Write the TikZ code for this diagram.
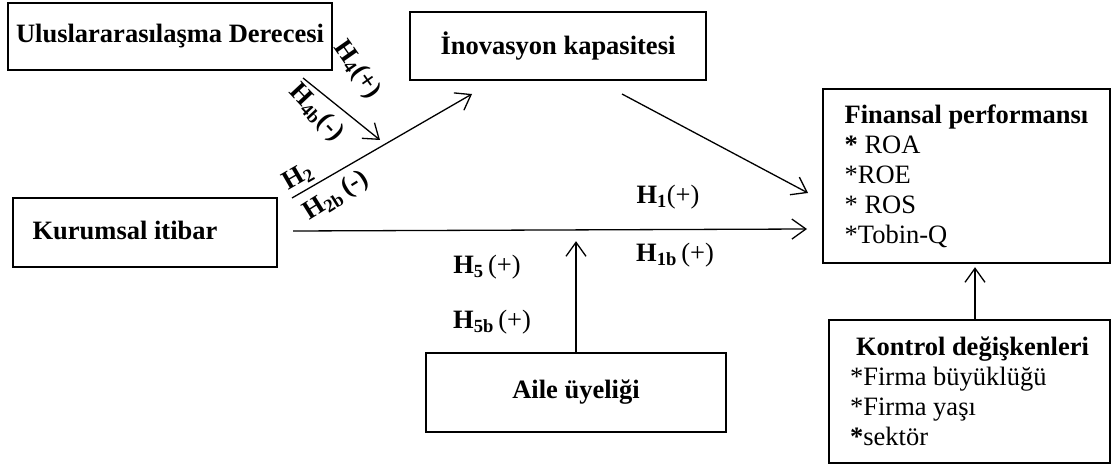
\documentclass[tikz,border=0pt]{standalone}
\usepackage{fontspec}
\setmainfont{Liberation Serif}
\usetikzlibrary{arrows.meta}
\newcommand{\Boyut}{\fontsize{26.5}{30}\selectfont}
\tikzset{
  kutu/.style={draw,line width=1.6pt,inner sep=0pt,font=\Boyut\bfseries},
  liste/.style={draw,line width=1.6pt,inner sep=0pt,align=left,font=\Boyut},
  ok/.style={line width=1.3pt,-{Straight Barb[length=14pt,width=20pt,line width=1.3pt]}},
  hip/.style={inner sep=0pt,font=\Boyut\bfseries},
}
\newcommand{\Hip}[1]{H\textsubscript{#1}}

\begin{document}
\begin{tikzpicture}[x=1pt,y=-1pt]
  \useasboundingbox (0,0) rectangle (1111,465);

  % kutular
  \node[kutu,minimum width=324,minimum height=67] (ulus) at (170,36.5)
    {Uluslararasılaşma Derecesi};
  \node[kutu,minimum width=296,minimum height=68] (inov) at (558,46)
    {İnovasyon kapasitesi};
  \node[kutu,minimum width=264,minimum height=69] (kurum) at (145,232.5)
    {\raisebox{5pt}{Kurumsal itibar}\hspace*{40pt}};
  \node[liste,minimum width=287,minimum height=174] (finans) at (966.5,176)
    {\textbf{Finansal performansı}\\\textbf{*} ROA\\\relax*ROE\\\relax* ROS\\\relax*Tobin-Q};
  \node[liste,minimum width=281,minimum height=143] (kontrol) at (969.5,391.5)
    {\hspace*{6pt}\textbf{Kontrol değişkenleri}\\\relax*Firma büyüklüğü\\\relax*Firma yaşı\\\textbf{*}sektör};
  \node[kutu,minimum width=300,minimum height=79] (aile) at (576,392.5)
    {Aile üyeliği};

  % oklar
  \coordinate (u1) at (303,78);   \coordinate (u2) at (380,140);
  \coordinate (k1) at (292,198);  \coordinate (k2) at (472,94);
  \coordinate (k3) at (293,231);  \coordinate (f1) at (807,229);
  \coordinate (i1) at (622,94);   \coordinate (f2) at (808,193);
  \draw[ok] (u1) -- (u2);
  \draw[ok] (k1) -- (k2);
  \draw[ok] (k3) -- (f1);
  \draw[ok] (i1) -- (f2);
  \draw[ok] (aile.north) -- ++(0,-111);
  \draw[ok] ([xshift=5.5pt]kontrol.north) -- ++(0,-52);

  % hipotezler
  \node[hip,rotate=-55] (h4) at (357,70) {\Hip{4}(+)};
  \node[hip,rotate=-47] (h4b) at (316,113) {\Hip{4b}(-)};
  \node[hip,rotate=30] (h2) at (298,177) {\Hip{2}};
  \node[hip,rotate=32] (h2b) at (336,196) {\Hip{2b}\,(-)};
  \node[hip] (h1) at (668,197) {\Hip{1}\mdseries(+)};
  \node[hip] (h1b) at (675,255) {\Hip{1b}\,\mdseries(+)};
  \node[hip] (h5) at (487,267) {\Hip{5}\,\mdseries(+)};
  \node[hip] (h5b) at (492,322) {\Hip{5b}\,\mdseries(+)};
\end{tikzpicture}
\end{document}
